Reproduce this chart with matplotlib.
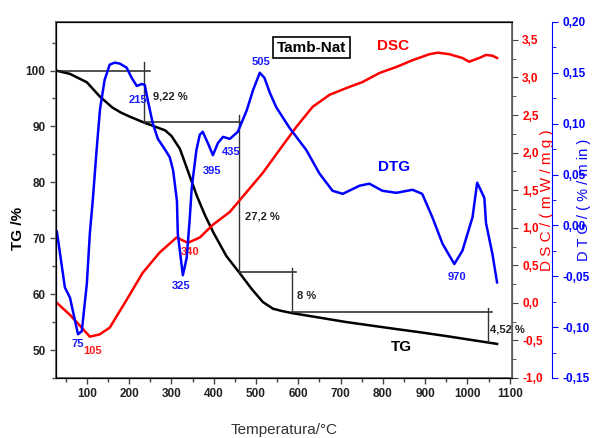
import matplotlib
matplotlib.use("Agg")
import matplotlib.pyplot as plt
from matplotlib.ticker import MultipleLocator, FuncFormatter

plt.rcParams['font.family'] = ['Liberation Sans Narrow', 'Liberation Sans', 'DejaVu Sans']

# TG curve (%)
tg_x = [27, 60, 100, 130, 160, 180, 200, 235, 260, 285, 300, 320, 340, 360, 380, 400,
        430, 460, 490, 516, 540, 560, 586, 650, 714, 780, 832, 886, 950, 1010, 1070]
tg_y = [100, 99.4, 97.9, 95.4, 93.4, 92.5, 91.8, 90.7, 90.0, 89.3, 88.3, 86.0, 81.8,
        77.6, 74.0, 70.9, 66.8, 63.9, 60.9, 58.6, 57.4, 57.0, 56.6, 55.8, 55.0, 54.3,
        53.75, 53.2, 52.5, 51.8, 51.1]

# DSC curve (mW/mg)
dsc_x = [29, 60, 83, 107, 130, 154, 194, 232, 272, 312, 339, 367, 398, 438, 462, 516, 556,
         595, 634, 674, 714, 752, 792, 832, 870, 910, 930, 957, 988, 1004, 1028, 1044,
         1059, 1070]
dsc_y = [0.0, -0.16, -0.30, -0.45, -0.42, -0.33, 0.04, 0.40, 0.67, 0.87, 0.80, 0.87, 1.04,
         1.21, 1.37, 1.73, 2.04, 2.34, 2.61, 2.77, 2.86, 2.94, 3.06, 3.14, 3.23, 3.31,
         3.33, 3.31, 3.26, 3.21, 3.26, 3.30, 3.29, 3.26]

# DTG curve (%/min)
dtg_x = [29, 48, 60, 79, 88, 100, 107, 114, 123, 131, 142, 154, 166, 178, 194, 206,
         218, 230, 237, 244, 256, 268, 284, 296, 304, 313, 315, 327, 336, 343, 348,
         359, 367, 374, 386, 398, 410, 422, 438, 457, 478, 493, 509, 520, 532, 548,
         579, 619, 650, 681, 705, 745, 768, 799, 832, 870, 893, 917, 941, 969, 988,
         1012, 1023, 1040, 1044, 1059, 1070]
dtg_y = [-0.006, -0.061, -0.071, -0.107, -0.104, -0.057, -0.008, 0.025, 0.074, 0.114,
         0.143, 0.158, 0.160, 0.159, 0.155, 0.145, 0.137, 0.139, 0.138, 0.123, 0.100,
         0.085, 0.075, 0.067, 0.054, 0.024, -0.008, -0.049, -0.032, 0.005, 0.037,
         0.074, 0.089, 0.092, 0.081, 0.069, 0.081, 0.087, 0.085, 0.092, 0.113, 0.133,
         0.150, 0.145, 0.131, 0.116, 0.096, 0.074, 0.051, 0.034, 0.031, 0.039, 0.041,
         0.034, 0.032, 0.035, 0.031, 0.008, -0.018, -0.038, -0.025, 0.008, 0.042,
         0.027, 0.002, -0.028, -0.056]

# peak labels (text, x, TG-axis y)
dtg_peaks = [("75", 79, 51.1), ("215", 220, 94.8), ("325", 322, 61.4), ("395", 395, 82.0),
             ("435", 442, 85.4), ("505", 511, 101.6), ("970", 974, 63.0)]
dsc_peaks = [("105", 114, 49.8), ("340", 343, 67.5)]

# mass loss steps: (x vertical, y top, y bottom, label, label x, label y)
steps = [(235, 101.6, 90.7, "9,22 %", 256, 95.4),
         (459, 92.0, 63.9, "27,2 %", 473, 73.9),
         (585, 64.7, 56.8, "8 %", 598, 59.6),
         (1049, 57.5, 51.4, "4,52 %", 1054, 53.75)]
hlines = [(100, 27, 249), (90.8, 235, 467), (63.9, 459, 595), (56.8, 585, 1057)]

fig = plt.figure(figsize=(5.92, 4.38), dpi=100)
ax = fig.add_axes([0.0946, 0.137, 0.770, 0.813])
ax2 = ax.twinx()
ax3 = ax.twinx()

def comma(fmt):
    return FuncFormatter(lambda v, p: (fmt % v).replace('.', ','))

# TG axis
ax.plot(tg_x, tg_y, color='black', lw=1.8)
for y, x0, x1 in hlines:
    ax.plot([x0, x1], [y, y], color='#222222', lw=1.1)
for xv, yt, yb, lab, lx, ly in steps:
    ax.plot([xv, xv], [yt, yb], color='#333333', lw=1.0)
    ax.text(lx, ly, lab, fontsize=8, fontweight='bold', color='#222222', va='center', ha='left')
for t, x, y in dtg_peaks:
    ax.text(x, y, t, color='#1a1aff', fontsize=8, fontweight='bold', ha='center', va='center')
for t, x, y in dsc_peaks:
    ax.text(x, y, t, color='#ff1a1a', fontsize=8, fontweight='bold', ha='center', va='center')
ax.text(844, 50.5, "TG", fontsize=11, fontweight='bold', ha='center', va='center')
ax.text(823, 104.3, "DSC", fontsize=11, fontweight='bold', color='#ff0000', ha='center', va='center')
ax.text(827, 82.7, "DTG", fontsize=11, fontweight='bold', color='#0000ff', ha='center', va='center')
ax.text(631, 104.1, "Tamb-Nat", fontsize=11, fontweight='bold', ha='center', va='center',
        bbox=dict(boxstyle='square,pad=0.25', fc='white', ec='black', lw=1.2))

ax.set_xlim(27, 1105)
ax.set_ylim(45, 108.7)
ax.set_xticks(range(100, 1101, 100))
ax.xaxis.set_minor_locator(MultipleLocator(50))
ax.set_yticks(range(50, 101, 10))
ax.yaxis.set_minor_locator(MultipleLocator(5))
ax.tick_params(axis='both', which='both', direction='out', labelsize=8.5, width=1, colors='#444444', labelcolor='#222222')
ax.tick_params(which='major', length=4)
ax.tick_params(which='minor', length=3)
for lbl in ax.get_xticklabels() + ax.get_yticklabels():
    lbl.set_fontweight('bold')
ax.set_xlabel("Temperatura/°C", fontsize=11, color='#333333', labelpad=16)
ax.set_ylabel("TG /%", fontsize=11, fontweight='bold')
ax.yaxis.set_label_coords(-0.068, 0.42)
for s in ['left', 'bottom', 'top']:
    ax.spines[s].set_color('#666666')
    ax.spines[s].set_linewidth(1.3)

# DSC axis
ax2.plot(dsc_x, dsc_y, color='#ff0000', lw=1.8)
ax2.set_ylim(-1.0, 3.74)
ax2.set_yticks([-1.0, -0.5, 0.0, 0.5, 1.0, 1.5, 2.0, 2.5, 3.0, 3.5])
ax2.yaxis.set_minor_locator(MultipleLocator(0.25))
ax2.yaxis.set_major_formatter(comma('%.1f'))
ax2.tick_params(axis='y', which='both', direction='out', labelsize=8.5, colors='#444444', labelcolor='#ff0000')
ax2.tick_params(which='major', length=4)
ax2.tick_params(which='minor', length=3)
for lbl in ax2.get_yticklabels():
    lbl.set_fontweight('bold')
ax2.spines['right'].set_color('#666666')
ax2.spines['right'].set_linewidth(1.3)
ax2.set_ylabel("D S C / ( m W / m g )", color='#ff0000', fontsize=11)
ax2.yaxis.set_label_coords(1.062, 0.5)

# DTG axis
ax3.plot(dtg_x, dtg_y, color='#0000ff', lw=1.8)
ax3.spines['right'].set_position(('axes', 1.088))
ax3.spines['right'].set_color('#0000ff')
ax3.set_ylim(-0.15, 0.20)
ax3.set_yticks([-0.15, -0.10, -0.05, 0.0, 0.05, 0.10, 0.15, 0.20])
ax3.yaxis.set_minor_locator(MultipleLocator(0.025))
ax3.yaxis.set_major_formatter(comma('%.2f'))
ax3.tick_params(axis='y', which='both', direction='out', labelsize=8.5, colors='#0000ff', labelcolor='#0000ff')
ax3.tick_params(which='major', length=4)
ax3.tick_params(which='minor', length=3)
for lbl in ax3.get_yticklabels():
    lbl.set_fontweight('bold')
ax3.set_ylabel("D T G / ( % / m in )", color='#0000ff', fontsize=10.5)
ax3.yaxis.set_label_coords(1.143, 0.5)

fig.savefig("out.png", dpi=100)
